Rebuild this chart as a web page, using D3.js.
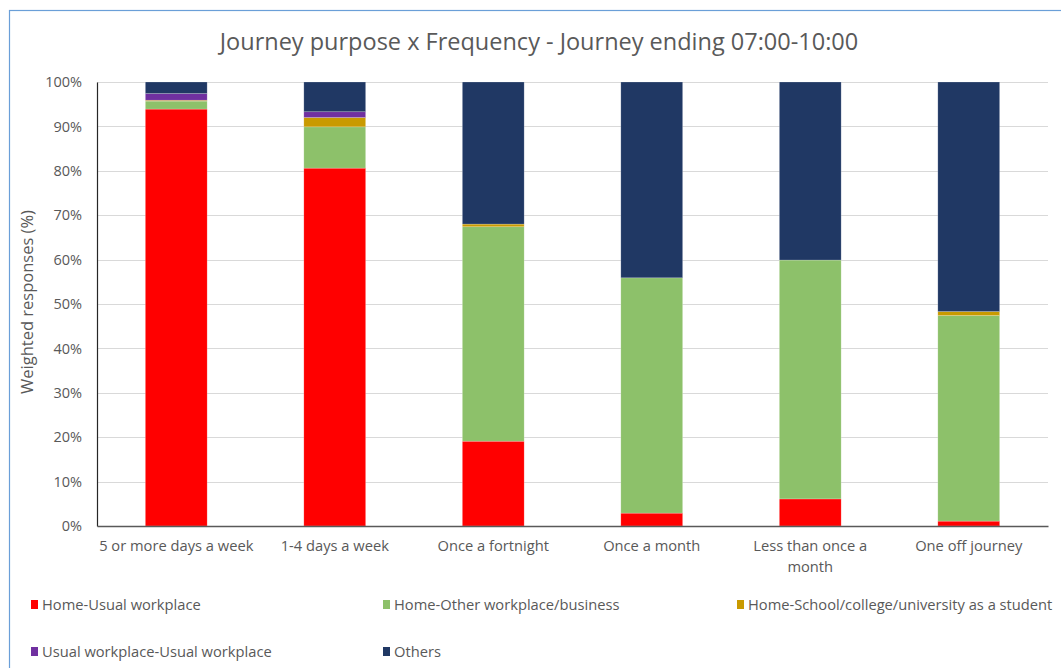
<!DOCTYPE html>
<html>
<head>
<meta charset="utf-8">
<script src="https://cdn.jsdelivr.net/npm/d3@7"></script>
<style>
  html, body { margin: 0; padding: 0; background: #fff; }
  svg { display: block; }
  text { font-family: "Open Sans", "Liberation Sans", sans-serif; fill: #595959; }
</style>
</head>
<body>
<script>
// Frequency categories along the x axis
const categories = ["5 or more days a week", "1-4 days a week", "Once a fortnight", "Once a month", "Less than once a month", "One off journey"];

// Journey purposes, stacked bottom to top
const purposes = ["Home-Usual workplace", "Home-Other workplace/business", "Home-School/college/university as a student", "Usual workplace-Usual workplace", "Others"];

// Share of weighted responses (%) for each purpose, per category
const homeUsual   = [93.9, 80.6, 19.1, 2.9, 6.1, 1.1];
const homeOther   = [1.8, 9.3, 48.3, 53.0, 53.8, 46.3];
const homeSchool  = [0.2, 2.1, 0.6, 0.0, 0.0, 0.9];
const usualUsual  = [1.5, 1.3, 0.0, 0.0, 0.0, 0.0];
const others      = [2.6, 6.7, 32.0, 44.1, 40.1, 51.7];

const yTicks = [0, 10, 20, 30, 40, 50, 60, 70, 80, 90, 100];
const colors = ["#ff0000", "#8dc16a", "#c99a00", "#7030a0", "#203864"];

const seriesValues = [homeUsual, homeOther, homeSchool, usualUsual, others];
const rows = categories.map((c, i) => {
  const r = { category: c };
  purposes.forEach((p, k) => { r[p] = seriesValues[k][i]; });
  return r;
});

const W = 1061, H = 668;
const margin = { left: 97, right: 13, top: 82, bottom: 142 };

const svg = d3.select("body").append("svg").attr("width", W).attr("height", H);

// chart frame
svg.append("rect").attr("x", 9.5).attr("y", 10.5).attr("width", W + 20).attr("height", H + 20)
  .attr("fill", "#fff").attr("stroke", "#6a9fd8").attr("stroke-width", 1.2);

svg.append("text").attr("x", 539).attr("y", 50).attr("text-anchor", "middle")
  .style("font-size", "23.5px").text("Journey purpose x Frequency - Journey ending 07:00-10:00");

const x = d3.scaleBand().domain(categories).range([margin.left, W - margin.right]).paddingInner(0.61).paddingOuter(0.305);
const y = d3.scaleLinear().domain([0, 100]).range([H - margin.bottom, margin.top]);

// gridlines
svg.append("g").selectAll("line").data(yTicks.filter(t => t > 0)).join("line")
  .attr("x1", margin.left).attr("x2", W - margin.right)
  .attr("y1", d => Math.round(y(d)) + 0.5).attr("y2", d => Math.round(y(d)) + 0.5)
  .attr("stroke", "#d9d9d9").attr("stroke-width", 1.2);

const stack = d3.stack().keys(purposes)(rows);

svg.append("g").selectAll("g").data(stack).join("g")
  .attr("fill", (d, i) => colors[i])
  .selectAll("rect").data(d => d).join("rect")
  .attr("x", d => x(d.data.category))
  .attr("width", x.bandwidth())
  .attr("y", d => y(d[1]))
  .attr("height", d => Math.max(0, y(d[0]) - y(d[1])))
  .attr("stroke", "#ffffff").attr("stroke-opacity", 0.35).attr("stroke-width", 0.6);

// y axis
const yAxis = svg.append("g").attr("transform", `translate(${margin.left},0)`)
  .call(d3.axisLeft(y).tickValues(yTicks).tickFormat(d => d + "%").tickSize(0).tickPadding(15));
yAxis.select(".domain").attr("stroke", "#262626").attr("stroke-width", 1.2);
yAxis.selectAll("text").style("font-size", "14.5px").attr("fill", "#595959");

// x axis
const xAxis = svg.append("g").attr("transform", `translate(0,${H - margin.bottom})`)
  .call(d3.axisBottom(x).tickSize(0).tickPadding(15));
xAxis.select(".domain").attr("stroke", "#595959").attr("stroke-width", 1.5);
xAxis.selectAll("text").style("font-size", "14.7px").attr("fill", "#595959")
  .each(function(d) {
    const t = d3.select(this);
    if (d === "Less than once a month") {
      t.text(null);
      t.append("tspan").attr("x", 0).attr("dy", "0.71em").text("Less than once a");
      t.append("tspan").attr("x", 0).attr("dy", "1.4em").text("month");
    }
  });

svg.append("text").attr("transform", `translate(33,${y(50) - 2}) rotate(-90)`)
  .attr("text-anchor", "middle").style("font-size", "16.5px").text("Weighted responses (%)");

// legend
const legendPos = [[31, 605], [383, 605], [737, 605], [31, 652], [383, 652]];
const legend = svg.append("g").selectAll("g").data(purposes).join("g")
  .attr("transform", (d, i) => `translate(${legendPos[i][0]},${legendPos[i][1]})`);
legend.append("rect").attr("x", 0).attr("y", -5).attr("width", 7).attr("height", 9)
  .attr("fill", (d, i) => colors[i]);
legend.append("text").attr("x", 11).attr("y", 0).attr("dy", "0.35em")
  .style("font-size", "14.7px").text(d => d);
</script>
</body>
</html>
